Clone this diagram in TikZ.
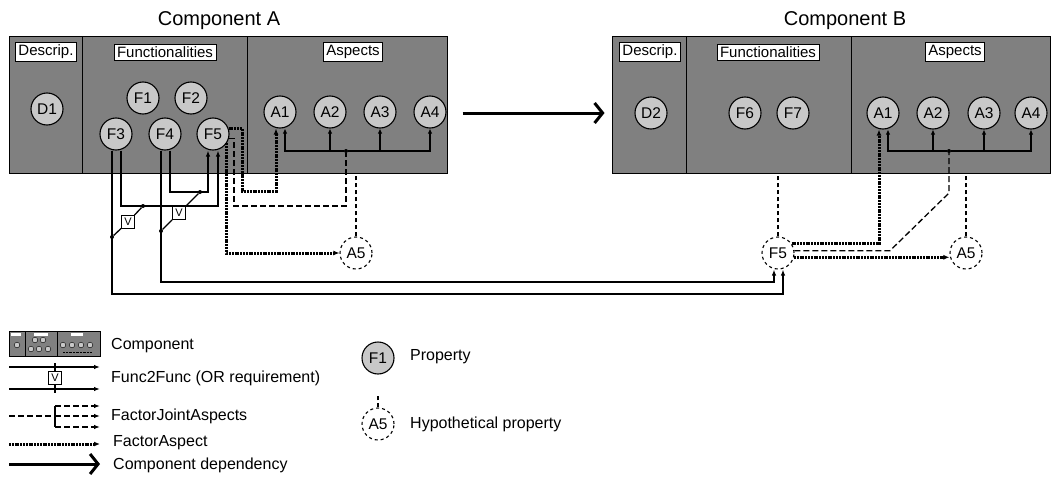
\documentclass[tikz,border=0pt]{standalone}
\usepackage{fontspec}
\setmainfont{Liberation Sans}
\usetikzlibrary{arrows.meta}
\definecolor{boxgray}{RGB}{128,128,128}
\definecolor{propgray}{RGB}{200,200,200}

\begin{document}
\begin{tikzpicture}[x=1pt,y=-1pt]
    \tikzset{
        comp/.style={draw, fill=boxgray, line width=1pt},
        lbl/.style={draw, fill=white, inner xsep=3pt, inner ysep=2.5pt, line width=0.7pt, font=\fontsize{15}{17}\selectfont},
        prop/.style={draw, circle, fill=propgray, minimum size=32pt, inner sep=0pt, line width=1.1pt, font=\fontsize{15.5}{17}\selectfont},
        hypo/.style={prop, fill=white, dashed},
        func/.style={line width=1.3pt, -{Latex[length=6pt,width=4.5pt]}},
        joint/.style={line width=1.3pt, dash pattern=on 6pt off 3pt},
        jointarc/.style={joint, -{Latex[length=6pt,width=4.5pt]}},
        aspect/.style={line width=3pt, dash pattern=on 2pt off 0.8pt, -{Latex[length=6pt,width=5pt]}},
        bus/.style={line width=1.3pt, -{Latex[length=5pt,width=4.5pt]}},
        hypoline/.style={line width=1.2pt, dash pattern=on 4pt off 3pt},
        orbox/.style={draw, fill=white, minimum size=13pt, inner sep=0pt, line width=0.8pt, font=\fontsize{11}{11}\selectfont},
        dep/.style={line width=3pt, -{Straight Barb[length=8pt,width=20pt]}},
        dot/.style={circle, fill, inner sep=0pt, minimum size=4pt},
        title/.style={font=\fontsize{20}{22}\selectfont},
        legtext/.style={anchor=west, inner sep=0pt, font=\fontsize{16}{18}\selectfont},
        mini/.style={draw, fill=propgray, line width=0.4pt}
    }
    \useasboundingbox (0,0) rectangle (1053,479);

    % component A
    \node[title] (titA) at (219,21) {Component A};
    \draw node[comp, minimum width=438pt, minimum height=137pt] (compA) at (228,104.5) {};
    \draw[line width=1pt] (82,36) -- (82,173);
    \draw[line width=1pt] (247,36) -- (247,173);
    \draw node[lbl] (descA) at (46,52) {Descrip.};
    \draw node[lbl] (funA) at (165,52) {Functionalities};
    \draw node[lbl] (aspA) at (353,52) {Aspects};

    \draw node[prop] (D1) at (47,109) {D1};
    \draw node[prop] (F1) at (143,98) {F1};
    \draw node[prop] (F2) at (191,98) {F2};
    \draw node[prop] (F3) at (116,134) {F3};
    \draw node[prop] (F4) at (165,134) {F4};
    \draw node[prop] (F5) at (213,134) {F5};
    \draw node[prop] (A1) at (280,112) {A1};
    \draw node[prop] (A2) at (330,112) {A2};
    \draw node[prop] (A3) at (380,112) {A3};
    \draw node[prop] (A4) at (430,112) {A4};
    \draw node[hypo] (A5) at (356,253) {A5};
    \node[dot] (jA) at (346,151) {};

    % component B
    \node[title] (titB) at (845,21) {Component B};
    \draw node[comp, minimum width=438pt, minimum height=137pt] (compB) at (831,104.5) {};
    \draw[line width=1pt] (686,36) -- (686,173);
    \draw[line width=1pt] (851,36) -- (851,173);
    \draw node[lbl] (descB) at (650,52) {Descrip.};
    \draw node[lbl] (funB) at (768,52) {Functionalities};
    \draw node[lbl] (aspB) at (955,52) {Aspects};

    \draw node[prop] (D2) at (651,113) {D2};
    \draw node[prop] (F6) at (745,113) {F6};
    \draw node[prop] (F7) at (793,113) {F7};
    \draw node[prop] (A1b) at (883,113) {A1};
    \draw node[prop] (A2b) at (933,113) {A2};
    \draw node[prop] (A3b) at (984,113) {A3};
    \draw node[prop] (A4b) at (1031,113) {A4};
    \draw node[hypo] (F5b) at (778,253) {F5};
    \draw node[hypo] (A5b) at (966,253) {A5};
    \node[dot] (jB) at (949,151) {};

    % dependency
    \draw[dep] ([xshift=15pt,yshift=-8.5pt]compA.east) -- ([xshift=-7pt,yshift=-8.5pt]compB.west);

    % func2func
    \coordinate (f3l) at ([xshift=-4pt]F3.south);
    \coordinate (f3r) at ([xshift=5pt]F3.south);
    \coordinate (f4l) at ([xshift=-4pt]F4.south);
    \coordinate (f4r) at ([xshift=5pt]F4.south);
    \coordinate (f5l) at ([xshift=-5pt]F5.south);
    \coordinate (f5r) at ([xshift=5pt]F5.south);
    \coordinate (f5bl) at ([xshift=-4pt]F5b.south);
    \coordinate (f5br) at ([xshift=5pt]F5b.south);
    \draw[func] (f3r) -- (f3r |- 0,206) -| (f5r);
    \draw[func] (f4r) -- (f4r |- 0,192) -| (f5l);
    \draw[func] (f3l) -- (f3l |- 0,294) -| (f5br);
    \draw[func] (f4l) -- (f4l |- 0,282) -| (f5bl);

    % or requirement
    \node[dot] (or1a) at (143,206) {};
    \node[dot] (or1b) at (f3l |- 0,237) {};
    \node[orbox] (v1) at (128,222) {V};
    \draw[line width=1.3pt] (or1a) -- (v1) -- (or1b);
    \node[dot] (or2a) at (200,192) {};
    \node[dot] (or2b) at (f4l |- 0,231) {};
    \node[orbox] (v2) at (179,213) {V};
    \draw[line width=1.3pt] (or2a) -- (v2) -- (or2b);

    % aspects of A
    \draw[aspect] (F5.20) -| (242,191) -| ([xshift=-4pt]A1.south);
    \draw[aspect] (F5.-35) |- (A5);
    \draw[joint] (F5.-15) -| (234,206) -| (jA);
    \draw[bus] (jA) -| ([xshift=5pt]A1.south);
    \draw[bus] (jA) -| (A2);
    \draw[bus] (jA) -| (A3);
    \draw[bus] (jA) -| (A4);
    \draw[hypoline] (A5) -- (A5 |- compA.south);

    % aspects of B
    \draw[hypoline] (F5b) -- (F5b |- compB.south);
    \draw[hypoline] (A5b) -- (A5b |- compB.south);
    \draw[aspect] (F5b.35) -| ([xshift=-4pt]A1b.south);
    \draw[joint] (F5b.8) -- (F5b.8 -| 890,0) -- (jB |- 0,193) -- (jB);
    \draw[aspect] (F5b.-15) -- (F5b.-15 -| A5b.west);
    \draw[bus] (jB) -| ([xshift=5pt]A1b.south);
    \draw[bus] (jB) -| (A2b);
    \draw[bus] (jB) -| (A3b);
    \draw[bus] (jB) -| (A4b);

    % legend
    \node[comp, line width=0.6pt, minimum width=91pt, minimum height=25pt] (legcomp) at (54.5,343.5) {};
    \draw[line width=0.6pt] (25,331) -- (25,356);
    \draw[line width=0.6pt] (57,331) -- (57,356);
    \fill[white] (11,333) rectangle (21,336);
    \fill[white] (34,333) rectangle (48,336);
    \fill[white] (71,333) rectangle (83,336);
    \draw[mini] (17,345) circle (2.8);
    \foreach \x in {35,43} \draw[mini] (\x,340) circle (2.8);
    \foreach \x in {31,39,48} \draw[mini] (\x,349) circle (2.8);
    \foreach \x in {63,72,81,90} \draw[mini] (\x,345) circle (2.8);
    \draw[line width=0.4pt, densely dotted] (63,352) -- (92,352);
    \node[legtext] (lt1) at (111,346) {Component};

    \coordinate (l2a) at (9,367);
    \coordinate (l2b) at (100,367);
    \coordinate (l2c) at (9,389);
    \coordinate (l2d) at (100,389);
    \node[orbox] (legv) at (55,378) {V};
    \draw[func] (l2a) -- (l2b);
    \draw[func] (l2c) -- (l2d);
    \draw[line width=1.3pt] (55,363) -- (legv) -- (55,393);
    \node[legtext] (lt2) at (111,378) {Func2Func (OR requirement)};

    \coordinate (l3a) at (9,416);
    \coordinate (l3b) at (55,416);
    \draw[joint] (l3a) -- (l3b);
    \draw[line width=1.3pt] (55,406) -- (55,427);
    \foreach \y in {406,416,427} \draw[jointarc] (55,\y) -- (100,\y);
    \node[legtext] (lt3) at (111,416) {FactorJointAspects};

    \coordinate (l4a) at (9,444);
    \coordinate (l4b) at (100,444);
    \draw[aspect] (l4a) -- (l4b);
    \node[legtext] (lt4) at (113,443) {FactorAspect};

    \coordinate (l5a) at (9,464);
    \coordinate (l5b) at (100,464);
    \draw[dep] (l5a) -- (l5b);
    \node[legtext] (lt5) at (113,465) {Component dependency};

    \draw node[prop] (legF1) at (378,358) {F1};
    \node[legtext] (lt6) at (410,357) {Property};
    \draw node[hypo] (legA5) at (378,424) {A5};
    \draw[hypoline] (legA5) -- (legA5 |- 0,396);
    \node[legtext] (lt7) at (410,424) {Hypothetical property};
\end{tikzpicture}
\end{document}
